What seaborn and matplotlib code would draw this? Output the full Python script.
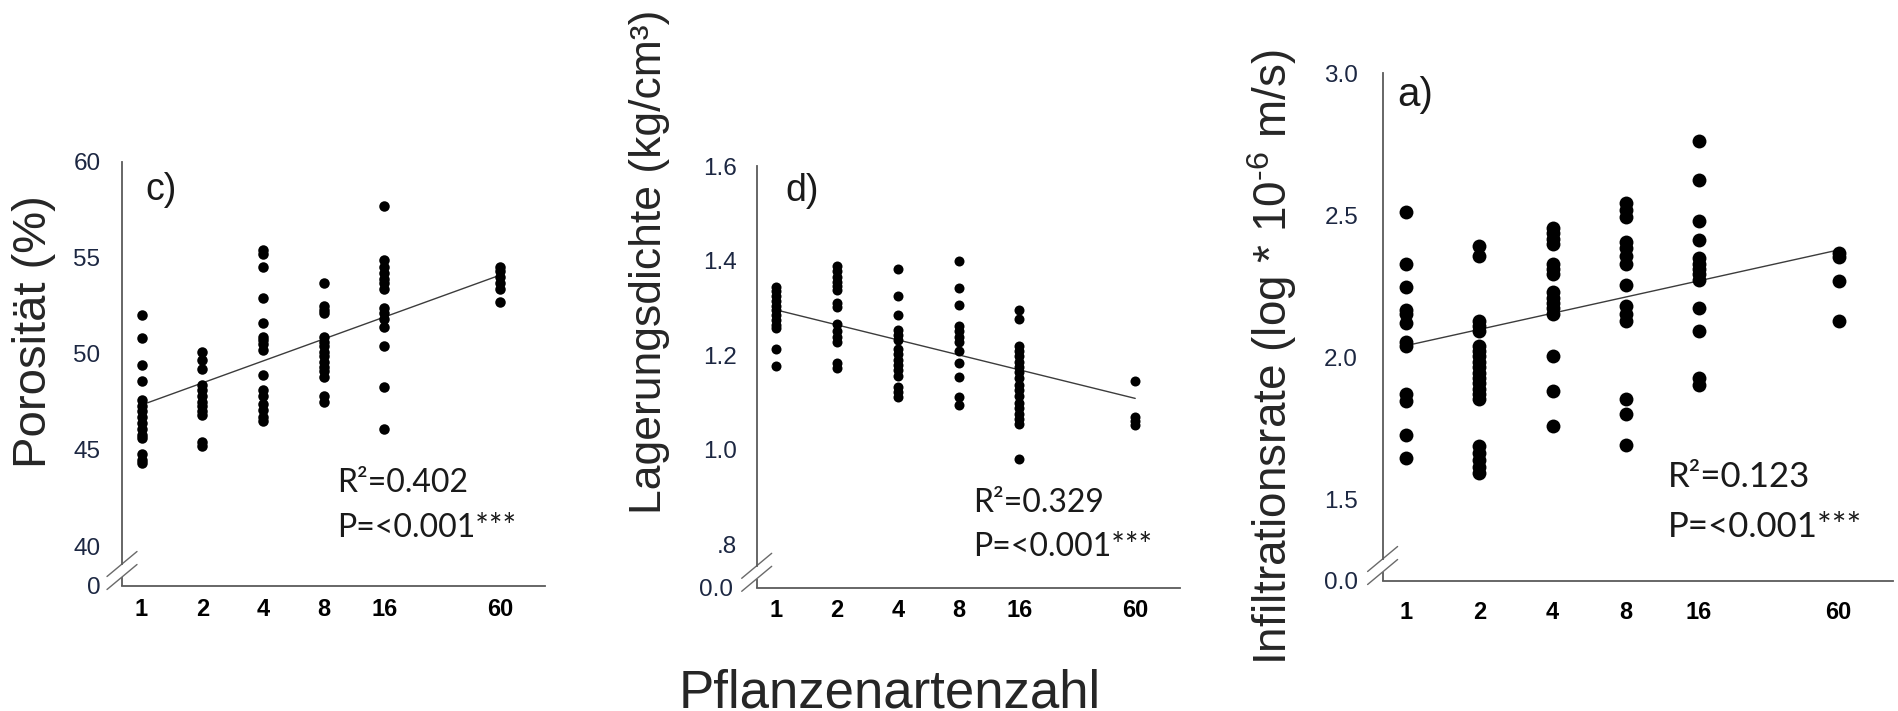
import numpy as np
import pandas as pd
import matplotlib
matplotlib.use("Agg")
import matplotlib.pyplot as plt
from matplotlib.ticker import NullLocator
import seaborn as sns

# ---------------- data ----------------
species = [1, 2, 4, 8, 16, 60]
species_labels = ["1", "2", "4", "8", "16", "60"]

# c) Porosity (%)
por_1 = [52.0, 50.8, 49.4, 48.6, 47.6, 47.3, 47.0, 46.7, 46.4, 46.1, 45.8, 45.6, 44.8, 44.5, 44.3]
por_2 = [50.1, 49.7, 49.2, 48.4, 48.1, 47.8, 47.5, 47.3, 47.0, 46.8, 45.4, 45.2]
por_4 = [55.4, 55.2, 54.5, 52.9, 51.6, 50.9, 50.7, 50.5, 50.2, 48.9, 48.1, 47.8, 47.4, 47.1, 46.7, 46.5]
por_8 = [53.7, 52.5, 52.3, 52.1, 50.9, 50.6, 50.4, 50.1, 49.9, 49.6, 49.3, 49.1, 48.8, 47.8, 47.5]
por_16 = [57.7, 54.9, 54.5, 54.2, 53.9, 53.7, 53.4, 52.4, 52.1, 51.8, 51.4, 50.4, 48.3, 46.1]
por_60 = [54.5, 54.3, 54.0, 53.7, 53.4, 52.7]
por_trend = [47.34, 54.10]          # fitted line at 1 and 60 species

# d) Bulk density (kg/cm3)
dens_1 = [1.345, 1.335, 1.325, 1.315, 1.305, 1.295, 1.285, 1.275, 1.265, 1.258, 1.213, 1.177]
dens_2 = [1.388, 1.378, 1.366, 1.356, 1.346, 1.338, 1.311, 1.303, 1.266, 1.251, 1.239, 1.228, 1.183, 1.174]
dens_4 = [1.383, 1.325, 1.286, 1.254, 1.243, 1.232, 1.213, 1.202, 1.190, 1.179, 1.168, 1.156, 1.134, 1.122, 1.111]
dens_8 = [1.399, 1.343, 1.307, 1.262, 1.251, 1.239, 1.228, 1.209, 1.184, 1.154, 1.113, 1.096]
dens_16 = [1.296, 1.277, 1.220, 1.209, 1.198, 1.186, 1.175, 1.164, 1.152, 1.137, 1.126, 1.115,
           1.100, 1.088, 1.077, 1.066, 1.054, 0.981]
dens_60 = [1.145, 1.069, 1.062, 1.053]
dens_trend = [1.296, 1.109]

# a) Infiltration rate (log * 10^-6 m/s)
inf_1 = [2.512, 2.327, 2.248, 2.166, 2.154, 2.122, 2.053, 2.041, 1.871, 1.846, 1.726, 1.645]
inf_2 = [2.393, 2.355, 2.129, 2.110, 2.091, 2.041, 2.022, 2.003, 1.984, 1.965, 1.946, 1.927,
         1.909, 1.890, 1.871, 1.852, 1.689, 1.663, 1.638, 1.613, 1.594]
inf_4 = [2.456, 2.437, 2.418, 2.399, 2.330, 2.311, 2.292, 2.229, 2.210, 2.191, 2.173, 2.154,
         2.005, 1.880, 1.758]
inf_8 = [2.544, 2.518, 2.493, 2.405, 2.386, 2.355, 2.330, 2.254, 2.179, 2.154, 2.129, 1.852,
         1.802, 1.691]
inf_16 = [2.760, 2.625, 2.481, 2.412, 2.349, 2.330, 2.311, 2.292, 2.273, 2.173, 2.093, 1.927, 1.902]
inf_60 = [2.368, 2.352, 2.267, 2.126]
inf_trend = [2.041, 2.378]

trend_x = [1, 60]

por_ticks = [40, 45, 50, 55, 60]
por_tick_labels = ["40", "45", "50", "55", "60"]
dens_ticks = [0.8, 1.0, 1.2, 1.4, 1.6]
dens_tick_labels = [".8", "1.0", "1.2", "1.4", "1.6"]
inf_ticks = [1.5, 2.0, 2.5, 3.0]
inf_tick_labels = ["1.5", "2.0", "2.5", "3.0"]

stats_c = ["R\u00b2=0.402", "P=<0.001***"]
stats_d = ["R\u00b2=0.329", "P=<0.001***"]
stats_a = ["R\u00b2=0.123", "P=<0.001***"]


def make_frame(groups):
    n = np.concatenate([[s] * len(g) for s, g in zip(species, groups)])
    v = np.concatenate([np.asarray(g, dtype=float) for g in groups])
    return pd.DataFrame({"n": n, "v": v})


df_c = make_frame([por_1, por_2, por_4, por_8, por_16, por_60])
df_d = make_frame([dens_1, dens_2, dens_4, dens_8, dens_16, dens_60])
df_a = make_frame([inf_1, inf_2, inf_4, inf_8, inf_16, inf_60])

# ---------------- style ----------------
sns.set_style("white")
plt.rcParams["font.family"] = ["Liberation Sans", "DejaVu Sans"]
plt.rcParams["mathtext.fontset"] = "custom"
plt.rcParams["mathtext.rm"] = "Liberation Sans"
plt.rcParams["mathtext.it"] = "Liberation Sans:italic"
plt.rcParams["mathtext.bf"] = "Liberation Sans:bold"

W, H = 1898, 711
fig = plt.figure(figsize=(W / 100, H / 100), dpi=100)
fig.patch.set_facecolor("white")

SPINE = "#5a5a5a"
YLAB = "#1c2742"


def fx(x):
    return x / W


def fy(y):
    return 1 - y / H


def add_panel(df, trend, box, ylim, yticks, ylabels, zero_label, msize,
              ylen, ypad, xpad, stats, stats_pos, stats_size, zero_extra=0):
    left, top, right, bottom = box
    axw, axh = right - left, bottom - top
    ax = fig.add_axes([fx(left), fy(bottom), axw / W, axh / H])
    sns.scatterplot(data=df, x="n", y="v", ax=ax, color="black", s=msize,
                    linewidth=0, legend=False, zorder=3)
    sns.lineplot(x=trend_x, y=trend, ax=ax, color="#3c3c3c", lw=1.0,
                 legend=False, zorder=2)
    ax.set_xscale("log", base=2)
    ax.set_xlim(0.8, 100)
    ax.set_xticks(species)
    ax.set_xticklabels(species_labels)
    ax.xaxis.set_minor_locator(NullLocator())
    ax.set_ylim(*ylim)
    ax.set_yticks(yticks)
    ax.set_yticklabels(ylabels)
    ax.yaxis.set_minor_locator(NullLocator())
    ax.set_xlabel("")
    ax.set_ylabel("")
    for s in ("top", "right"):
        ax.spines[s].set_visible(False)
    for s in ("left", "bottom"):
        ax.spines[s].set_color(SPINE)
        ax.spines[s].set_linewidth(1.3)
    ax.tick_params(axis="x", direction="in", length=4.5, width=1.0, color=SPINE,
                   pad=xpad, labelsize=17, labelcolor="black")
    for t in ax.get_xticklabels():
        t.set_fontweight("bold")
    ax.tick_params(axis="y", direction="out", length=ylen, width=1.0, color=SPINE,
                   pad=ypad, labelsize=17.5, labelcolor=YLAB)
    ax.set_facecolor("white")
    ax.grid(False)

    # broken y-axis marks
    hi = 21.7 / axh
    lo = 8.7 / axh
    y0, y1 = ylim
    ax.spines["left"].set_bounds(y0 + hi * (y1 - y0), y1)
    ax.plot([0, 0], [0, lo], transform=ax.transAxes, color=SPINE, lw=1.3,
            clip_on=False, solid_capstyle="butt")
    for yc in (hi, lo):
        ax.plot([-15 / axw, 15 / axw], [yc - 12.5 / axh, yc + 12.5 / axh],
                transform=ax.transAxes, color="#6a6a6a", lw=1.0, clip_on=False)
    # label at the foot of the broken axis
    off_px = (ylen + ypad) * 100 / 72 + zero_extra
    fig.text(fx(left - off_px), fy(bottom + 2), zero_label, ha="right", va="center",
             fontsize=17.5, color=YLAB)

    # statistics text
    (sx, sy1, sy2) = stats_pos
    fig.text(fx(sx), fy(sy1), stats[0], fontsize=stats_size, family=["Lato", "DejaVu Sans"],
             color="#1a1a1a", ha="left", va="baseline")
    fig.text(fx(sx), fy(sy2), stats[1], fontsize=stats_size, family=["Lato", "DejaVu Sans"],
             color="#1a1a1a", ha="left", va="baseline")
    return ax


ax_c = add_panel(df_c, por_trend, (122, 161.7, 545, 585.7), (37.934, 60), por_ticks,
                 por_tick_labels, "0", 57, 6.5, 9.0, 8.5, stats_c, (337, 491.7, 536.7), 23)
ax_d = add_panel(df_d, dens_trend, (756.7, 166.1, 1180, 587.5), (0.7093, 1.6), dens_ticks,
                 dens_tick_labels, "0.0", 52, 7.5, 6.5, 8.5, stats_d, (973, 511.8, 556.4), 23,
                 zero_extra=4)
ax_a = add_panel(df_a, inf_trend, (1382.6, 73.2, 1892.7, 580.7), (1.2134, 3.0), inf_ticks,
                 inf_tick_labels, "0.0", 100, 7.2, 10.5, 14.5, stats_a, (1668, 487, 536.7), 25)

# panel letters
fig.text(fx(145), fy(190), "c)", fontsize=27, ha="left", va="center", color="#1a1a1a")
fig.text(fx(785), fy(191), "d)", fontsize=27, ha="left", va="center", color="#1a1a1a")
fig.text(fx(1397), fy(95), "a)", fontsize=29, ha="left", va="center", color="#1a1a1a")

# axis titles
fig.text(fx(34), fy(332), "Porosit\u00e4t (%)", fontsize=34, rotation=90,
         ha="center", va="center")
fig.text(fx(649), fy(262), "Lagerungsdichte (kg/cm\u00b3)", fontsize=32, rotation=90,
         ha="center", va="center")
fig.text(fx(1272), fy(357), "Infiltrationsrate (log * 10$^{\\mathrm{\u2010}6}$ m/s)",
         fontsize=33, rotation=90, ha="center", va="center")
fig.text(fx(890), fy(707), "Pflanzenartenzahl", fontsize=38, ha="center", va="baseline")

fig.savefig("out.png", dpi=100, facecolor="white")
